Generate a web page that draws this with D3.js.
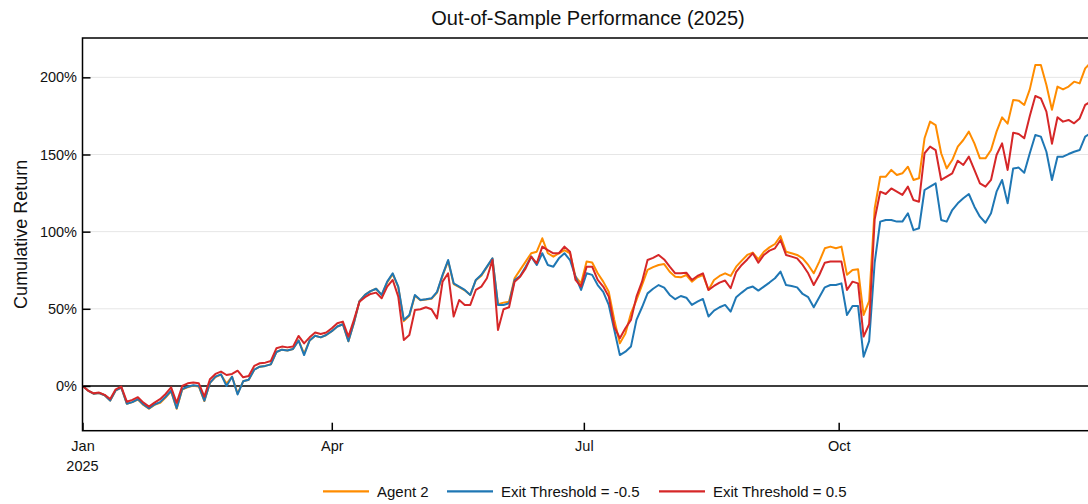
<!DOCTYPE html>
<html lang="en">
<head>
<meta charset="utf-8">
<title>Out-of-Sample Performance (2025)</title>
<style>
body {
  margin: 0;
  background: #fff;
}
svg {
  display: block;
  font-family: "Liberation Sans", Arial, sans-serif;
}
.grid line {
  stroke: #e6e6e6;
  stroke-width: 1;
}
.axis text {
  font-size: 14.5px;
  fill: #111;
}
.axis line {
  stroke: #000;
  stroke-width: 1.5;
}
.series {
  fill: none;
  stroke-width: 2;
  stroke-linejoin: round;
}
</style>
</head>
<body>
<div id="chart"></div>

<script src="https://d3js.org/d3.v7.min.js"></script>
<script>
// cumulative return in %, one value every 2 days starting 2025-01-01
var startDate = new Date(2025, 0, 1);

var agent2 = [
  0, -3, -5, -4.6, -6, -9.5, -2.8, -1, -11.5, -10.5,
  -8.8, -12.3, -14.8, -12.3, -11, -7.5, -3.5, -14.8, -2.3, -0.8,
  0.2, -0.3, -9.8, 2, 5.8, 7.3, 1.5, 6, -5, 3,
  4, 10.5, 12.5, 13, 14, 22, 23.5, 23, 24, 29.5,
  21, 29.5, 32.5, 31.5, 33, 35.5, 38.5, 40, 29, 41,
  55, 59, 61.5, 63, 59, 67, 72.5, 64, 42, 45.5,
  58.5, 55.5, 56, 56.5, 60.5, 71.5, 81, 66, 64, 62,
  59, 68.5, 71.5, 77, 82.5, 53, 54, 54.6, 69.8, 75.2,
  80.6, 86, 87, 95.7, 86, 83.8, 86, 88, 86, 70.8,
  66.5, 80.6, 80, 73, 67.6, 61, 42.8, 27.6, 34, 47,
  55.7, 65.4, 75.2, 77, 78.4, 79, 74, 70.8, 70.4, 71.9,
  67.6, 70.4, 71.9, 62.2, 68.7, 71.3, 73, 71.3, 77.3, 81.2,
  84.9, 86.4, 82, 87, 89.8, 92, 97.2, 87, 86, 84.9,
  82.7, 78.4, 73, 80.6, 89.2, 90.3, 89.2, 90.3, 72, 75.2,
  75.6, 46, 55, 115, 135.6, 135.6, 140, 136.7, 137.8, 142.1,
  133.5, 134.6, 160.5, 171.3, 169.1, 150.8, 141, 146.4, 155.1, 159.4,
  164.8, 157.2, 147.5, 147.5, 152.9, 164.8, 174.1, 170, 185.3, 184.9,
  182.1, 192.2, 208, 208, 195, 179, 194, 192.2, 194, 197.2,
  196.1, 205.8, 209.5
];

var exitNeg = [
  0, -3, -5, -4.6, -6, -9.5, -2.8, -1, -11.5, -10.5,
  -8.5, -12, -14.5, -12, -10.5, -7, -3, -14.5, -2, -0.5,
  0.5, 0, -9.5, 2, 6, 7.5, 0, 6, -5.5, 3,
  4, 10.5, 12.5, 13, 14, 22, 23.5, 23, 24, 29.5,
  20, 29.5, 32.5, 31.5, 33, 35.5, 38.5, 40, 29, 41,
  55, 59, 61.5, 63, 59, 67.6, 73, 64.4, 42.8, 46,
  59, 55.7, 56.2, 56.8, 61, 72, 81.6, 66.5, 64.4, 62.2,
  59, 68.7, 72, 77.3, 82.7, 52.5, 52.5, 53.6, 68.7, 71.3,
  77.3, 83.8, 78.4, 86, 78.4, 77.3, 82.7, 86, 81.6, 70.8,
  62.2, 73, 72, 65.4, 61, 52.5, 36.3, 20, 22.2, 25.5,
  42.8, 51, 60, 63, 65.4, 63.7, 59, 56.2, 58.3, 57.2,
  52.5, 54.6, 56.4, 45, 48.8, 51, 52.5, 48.2, 57.5, 60.5,
  63.3, 64.4, 61.8, 64.4, 67, 69.8, 74.1, 65.4, 64.8, 63.9,
  59.6, 57.5, 51, 57.5, 63.9, 65.4, 65.4, 66.5, 46, 51.8,
  51.8, 19, 29, 80, 106.5, 107.6, 107.6, 106.5, 106.5, 111.9,
  101, 102.2, 127, 129.2, 131.3, 107.6, 106.5, 114, 118.4, 121.6,
  124.4, 116.2, 109.7, 105.8, 111.9, 125.9, 133.5, 118.4, 141, 141.5,
  138.2, 150.8, 162.6, 161.6, 151.8, 133.5, 148.6, 148.6, 150.3, 151.8,
  152.9, 161.6, 163.7
];

var exitPos = [
  0, -3, -4.8, -4.3, -5.8, -8.5, -2.2, -0.4, -10.2, -9,
  -7.3, -10.8, -13.4, -10.8, -8.6, -5.2, -0.9, -11, 0, 1.7,
  2.2, 1.7, -6.9, 4.3, 7.8, 9.3, 7.1, 7.8, 9.9, 5.6,
  6.5, 13, 14.7, 15.1, 16.2, 24.4, 25.5, 25, 25.5, 32.4,
  27.6, 31.5, 34.6, 33.7, 34.6, 37.4, 40.6, 41.7, 32, 42.8,
  54.6, 57.5, 59.6, 60.5, 56.8, 64.4, 68.7, 57.9, 29.8, 33,
  49.2, 49.7, 51, 49.7, 43.8, 67.6, 73, 45, 55.7, 52.5,
  52.5, 62.2, 64.4, 69.8, 81.6, 36.3, 49.7, 51, 67.6, 70.8,
  76.2, 83.8, 79.5, 90.3, 88, 86, 86, 90.3, 87, 68.7,
  64.4, 77.3, 77.3, 68.7, 64.4, 57.9, 38.4, 30.9, 37.4, 42.8,
  57.9, 67.6, 81.6, 83, 84.9, 82, 77.3, 73, 73, 73.4,
  68.7, 71.3, 73, 62.2, 64.8, 67, 68.3, 63.3, 74, 78.4,
  82, 86, 79.9, 84.9, 87.7, 89.2, 94.6, 84.9, 83.8, 82.7,
  78.4, 73, 65.4, 71.9, 79.9, 80.6, 80.6, 80.6, 62.2, 67.6,
  66.5, 32, 40, 108, 125.9, 124.4, 128, 125.9, 123.8, 129.2,
  120.5, 119.4, 150.8, 155.1, 152.9, 133.5, 135.6, 137.8, 146, 143.2,
  148.6, 140, 131.3, 129.2, 133.5, 149.7, 157.2, 140, 164.1, 163.3,
  160.5, 174.9, 187.9, 186.4, 177.8, 157, 174.1, 171.3, 172.4, 170.2,
  173.4, 182.1, 184.3
];

var seriesNames = ["Agent 2", "Exit Threshold = -0.5", "Exit Threshold = 0.5"];
var seriesColors = ["#ff8c00", "#1f77b4", "#d62728"];
var yTicks = [0, 50, 100, 150, 200];
var xTicks = [new Date(2025, 0, 1), new Date(2025, 3, 1), new Date(2025, 6, 1), new Date(2025, 9, 1)];

var dates = agent2.map(function(d, i) { return d3.timeDay.offset(startDate, 2 * i); });
var allSeries = [agent2, exitNeg, exitPos];

// chart size (plot box edges in px)
var W = 1088, H = 504;
var plotLeft = 82.5, plotRight = 1093.5, plotTop = 38, plotBottom = 430.7;

var svg = d3.select("#chart").append("svg")
    .attr("width", W)
    .attr("height", H);

var x = d3.scaleTime()
    .domain([new Date(2025, 0, 1), new Date(2026, 0, 1)])
    .range([plotLeft, plotRight]);

var y = d3.scaleLinear()
    .domain([-29, 225.5])
    .range([plotBottom, plotTop]);

svg.append("defs").append("clipPath")
    .attr("id", "plotclip")
  .append("rect")
    .attr("x", plotLeft)
    .attr("y", plotTop)
    .attr("width", plotRight - plotLeft)
    .attr("height", plotBottom - plotTop);

// horizontal grid
svg.append("g")
    .attr("class", "grid")
  .selectAll("line")
  .data(yTicks)
  .enter().append("line")
    .attr("x1", plotLeft)
    .attr("x2", plotRight)
    .attr("y1", function(d) { return y(d); })
    .attr("y2", function(d) { return y(d); });

// zero line
svg.append("line")
    .attr("x1", plotLeft)
    .attr("x2", plotRight)
    .attr("y1", y(0))
    .attr("y2", y(0))
    .attr("stroke", "#000")
    .attr("stroke-width", 1.5);

// the three series
var line = d3.line()
    .x(function(d, i) { return x(dates[i]); })
    .y(function(d) { return y(d); });

svg.append("g")
    .attr("clip-path", "url(#plotclip)")
  .selectAll("path")
  .data(allSeries)
  .enter().append("path")
    .attr("class", "series")
    .attr("stroke", function(d, i) { return seriesColors[i]; })
    .attr("d", line);

// frame
svg.append("rect")
    .attr("x", plotLeft)
    .attr("y", plotTop)
    .attr("width", plotRight - plotLeft)
    .attr("height", plotBottom - plotTop)
    .attr("fill", "none")
    .attr("stroke", "#000")
    .attr("stroke-width", 1.5);

// axes
var yAxis = svg.append("g")
    .attr("class", "axis")
    .attr("transform", "translate(" + plotLeft + ",0)")
    .call(d3.axisLeft(y)
      .tickValues(yTicks)
      .tickSizeInner(-8)
      .tickSizeOuter(0)
      .tickPadding(5.5)
      .tickFormat(function(d) { return d + "%"; }));
yAxis.select(".domain").remove();

var xAxis = svg.append("g")
    .attr("class", "axis")
    .attr("transform", "translate(0," + plotBottom + ")")
    .call(d3.axisBottom(x)
      .tickValues(xTicks)
      .tickSizeInner(-8)
      .tickSizeOuter(0)
      .tickPadding(10)
      .tickFormat(d3.timeFormat("%b")));
xAxis.select(".domain").remove();

xAxis.append("text")
    .attr("x", x(xTicks[0]))
    .attr("y", 40.3)
    .attr("text-anchor", "middle")
    .text("2025");

// title and y label
svg.append("text")
    .attr("x", (plotLeft + plotRight) / 2)
    .attr("y", 24.5)
    .attr("text-anchor", "middle")
    .style("font-size", "20px")
    .attr("fill", "#111")
    .text("Out-of-Sample Performance (2025)");

svg.append("text")
    .attr("transform", "translate(26.5," + ((plotTop + plotBottom) / 2) + ") rotate(-90)")
    .attr("text-anchor", "middle")
    .style("font-size", "18px")
    .attr("fill", "#111")
    .text("Cumulative Return");

// legend
var legendX = [323, 447, 659];
var legend = svg.append("g")
  .selectAll("g")
  .data(seriesNames)
  .enter().append("g")
    .attr("transform", function(d, i) { return "translate(" + legendX[i] + ",491.3)"; });

legend.append("line")
    .attr("x1", 0)
    .attr("x2", 46)
    .attr("stroke", function(d, i) { return seriesColors[i]; })
    .attr("stroke-width", 2.2);

legend.append("text")
    .attr("x", 54)
    .attr("y", 5.3)
    .style("font-size", "15px")
    .attr("fill", "#111")
    .text(function(d) { return d; });
</script>
</body>
</html>
